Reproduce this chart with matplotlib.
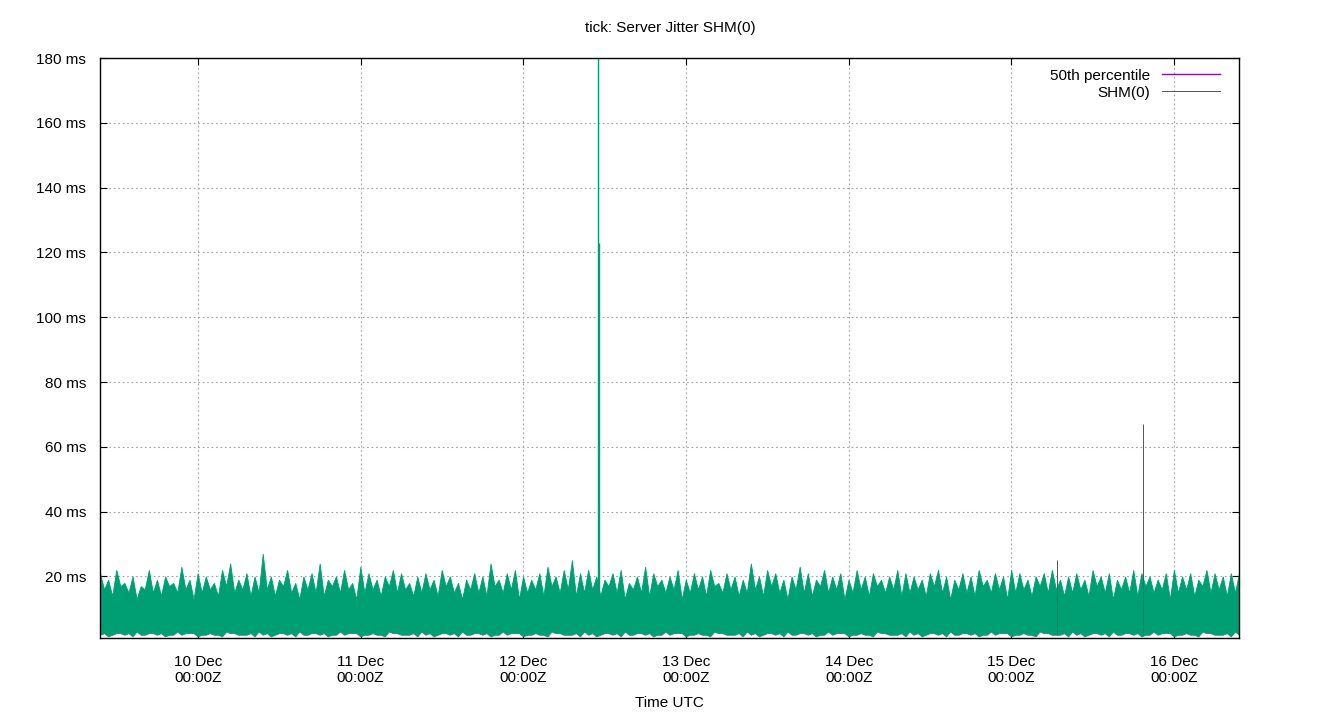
import matplotlib
matplotlib.use("Agg")
import matplotlib.pyplot as plt
import matplotlib.dates as mdates
from matplotlib.lines import Line2D
from datetime import datetime

plt.rcParams['font.family'] = ['Liberation Sans', 'DejaVu Sans']

start = datetime(2023, 12, 9, 9, 34)
end = datetime(2023, 12, 16, 9, 34)

# band envelope, one value per ~1.2 h (ms)
highs = [21, 19, 22, 18, 20, 17, 22, 19, 20, 18, 23, 19, 21, 20, 18, 22, 24, 19, 21, 20,
         27, 20, 19, 22, 18, 20, 21, 24, 19, 20, 22, 18, 23, 21, 19, 20, 22, 21, 18, 20,
         21, 19, 22, 20, 18, 19, 21, 20, 24, 19, 21, 22, 20, 19, 21, 23, 20, 22, 25, 21,
         22, 20, 19, 21, 22, 18, 20, 23, 21, 19, 20, 22, 19, 21, 20, 22, 18, 21, 20, 19,
         24, 20, 22, 21, 19, 20, 23, 21, 19, 22, 20, 21, 19, 22, 20, 21, 19, 20, 22, 21,
         20, 19, 21, 22, 20, 19, 21, 20, 22, 19, 21, 20, 22, 21, 19, 20, 21, 22, 19, 20,
         21, 19, 22, 20, 21, 19, 20, 22, 21, 20, 19, 21, 22, 20, 21, 19, 22, 21, 20, 21]
mids = [16, 14, 17, 15, 13, 16, 15, 14, 17, 15, 16, 13, 15, 16, 14, 17, 15, 16, 14, 15]
lows = [2, 1.5, 2.5, 2, 1.5, 2, 2.5, 2, 1.5, 2, 2, 2.5, 1.5, 2, 2, 1.5, 2.5, 2, 2, 1.5]
median = 8.5

# isolated spikes: (time, value ms)
spike_times = [datetime(2023, 12, 12, 11, 5), datetime(2023, 12, 12, 11, 12)]
spike_vals = [180, 123]
thin_times = [datetime(2023, 12, 15, 6, 40), datetime(2023, 12, 15, 19, 20)]
thin_vals = [25, 67]

n = len(highs)
step = (end - start) / (2 * n)
times, tops, bots = [], [], []
for i in range(n):
    times += [start + step * (2 * i), start + step * (2 * i + 1)]
    tops += [highs[i], mids[i % len(mids)]]
    bots += [lows[i % len(lows)], lows[(i + 7) % len(lows)] + 0.5]
times.append(end); tops.append(highs[0]); bots.append(lows[0])

fig = plt.figure(figsize=(13.4, 7.2), dpi=100)
ax = fig.add_axes([100/1340, 1 - 638/720, (1239-100)/1340, (638-58)/720])
green = '#009e73'
ax.plot([start, end], [median, median], color='#9400d3', lw=1, zorder=1)
ax.fill_between(times, bots, tops, color=green, lw=0.6, edgecolor=green, zorder=2)
ax.vlines(spike_times, 10, spike_vals, color=green, lw=1, zorder=3)
ax.vlines(thin_times, 2, thin_vals, color='#555555', lw=0.7, zorder=3)

ax.set_xlim(start, end)
ax.set_ylim(1, 180)
ax.set_yticks(range(20, 181, 20))
ax.set_yticklabels([f"{v} ms" for v in range(20, 181, 20)])
ax.xaxis.set_major_locator(mdates.DayLocator())
ax.xaxis.set_major_formatter(mdates.DateFormatter('%d %b\n%H:%MZ'))
ax.tick_params(direction='in', top=True, right=True, labelsize=11, length=5)
ax.tick_params(axis='x', pad=12)
ax.tick_params(axis='y', pad=10)
ax.grid(True, color='#a0a0a0', linestyle=(0, (1.5, 2.5)), lw=0.8, zorder=0)
ax.set_axisbelow(True)
for s in ax.spines.values():
    s.set_linewidth(1)
    s.set_zorder(5)
ax.set_xlabel('Time UTC', fontsize=11, labelpad=8)
fig.text(0.5, 1 - 28/720, 'tick: Server Jitter SHM(0)', ha='center', va='center', fontsize=11)

handles = [Line2D([], [], color='#9400d3', lw=1), Line2D([], [], color='#555555', lw=0.7)]
leg = ax.legend(handles, ['50th percentile', 'SHM(0)'], loc='upper right', frameon=False,
                fontsize=11, markerfirst=False, handlelength=3.8, borderaxespad=0.3,
                labelspacing=0.2, bbox_to_anchor=(0.993, 1.0))
fig.savefig('out.png', dpi=100)
